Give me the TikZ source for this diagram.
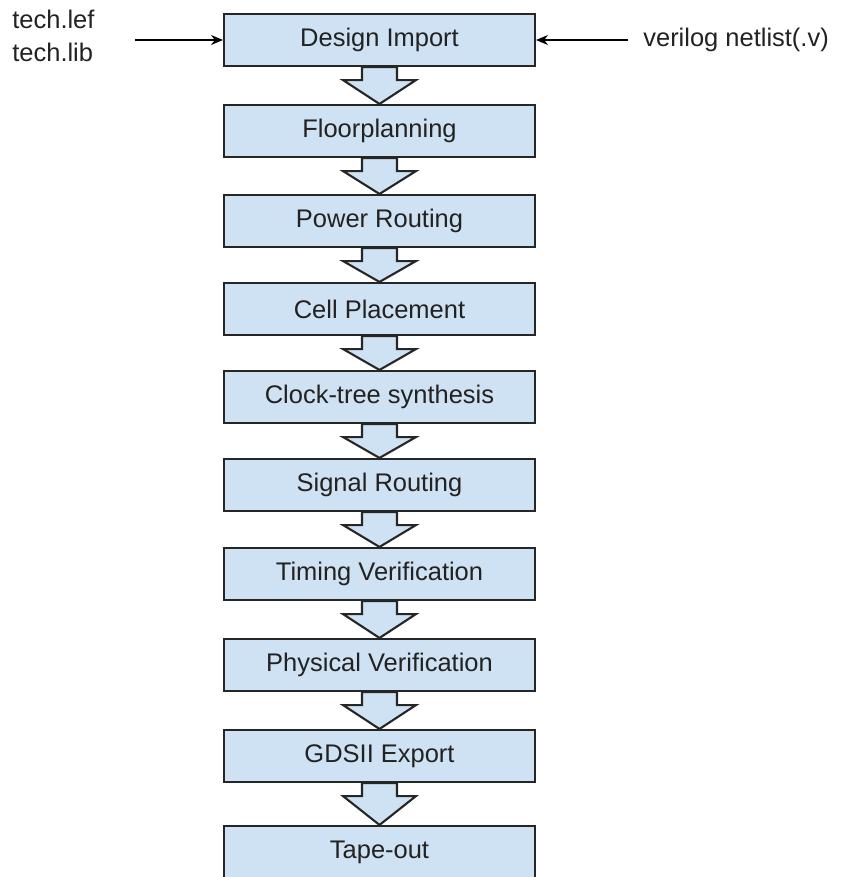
\documentclass[tikz,border=0pt]{standalone}
\usepackage{fontspec}
\setmainfont{Liberation Sans}
\usepackage{tikz}
\usetikzlibrary{arrows.meta,positioning,calc}
\definecolor{Ink}{HTML}{222222}
\definecolor{Edge}{HTML}{262626}
\definecolor{StageBlue}{HTML}{CFE2F3}

\begin{document}
\begin{tikzpicture}[x=0.02cm,y=-0.02cm,every node/.style={font=\fontsize{14.5}{16}\selectfont,text=Ink},
    stage/.style={draw=Edge,fill=StageBlue,line width=1.2pt,minimum width=6.22cm,minimum height=1.04cm,inner sep=0pt},
    flow/.style={draw=Edge,fill=StageBlue,line width=1.2pt,line join=miter},
    feed/.style={-{Stealth[length=2.4mm,width=2mm]},line width=0.8pt,black}]
      \useasboundingbox (0,0) rectangle (851,877);
      \clip (0,0) rectangle (851,877);

      \node[stage] (import) at (379.5,40) {Design Import};
      \node[stage] (floor) at (379.5,131) {Floorplanning};
      \node[stage] (power) at (379.5,221) {Power Routing};
      \node[stage] (place) at (379.5,309) {Cell Placement};
      \node[stage] (cts) at (379.5,397) {Clock-tree synthesis};
      \node[stage] (route) at (379.5,485) {Signal Routing};
      \node[stage] (timing) at (379.5,574) {Timing Verification};
      \node[stage] (phys) at (379.5,665) {Physical Verification};
      \node[stage] (gds) at (379.5,756) {GDSII Export};
      \node[stage] (tapeout) at (379.5,852) {Tape-out};

      % block arrows between the stages
      \foreach \a/\b in {import/floor,floor/power,power/place,place/cts,cts/route,route/timing,timing/phys,phys/gds,gds/tapeout}
        \draw[flow] ($(\a.south)+(-17.5,0)$) -- ($(\a.south)+(-17.5,13)$) -- ($(\a.south)+(-36.5,13)$)
          -- (\b.north) -- ($(\a.south)+(36.5,13)$) -- ($(\a.south)+(17.5,13)$) -- ($(\a.south)+(17.5,0)$) -- cycle;

      % inputs
      \node[anchor=west,align=left,inner sep=0pt] (techfiles) at (12,36) {tech.lef\\[3pt]tech.lib};
      \node[anchor=west,inner sep=0pt] (netlist) at (643,40) {verilog netlist(.v)};
      \coordinate (libin) at (135,40);
      \coordinate (netin) at (628,40);
      \draw[feed] (libin) -- (import.west);
      \draw[feed] (netin) -- (import.east);
    \end{tikzpicture}
\end{document}
